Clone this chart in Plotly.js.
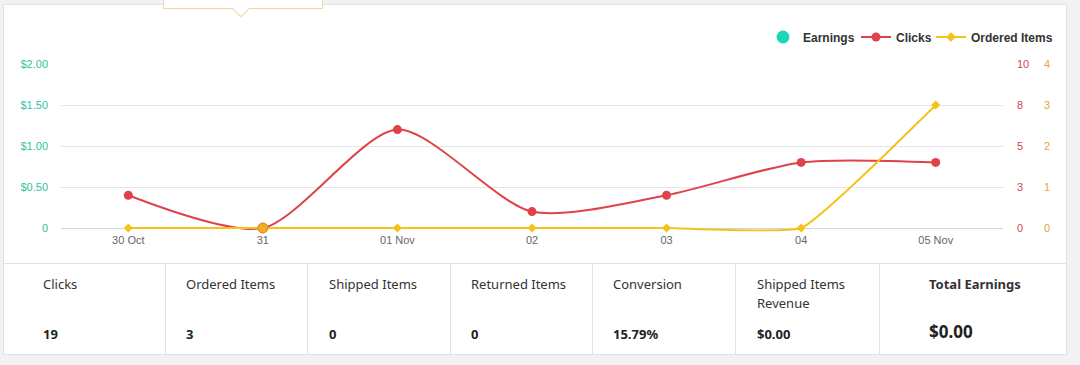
<!DOCTYPE html>
<html>
<head>
<meta charset="utf-8">
<script src="https://cdn.plot.ly/plotly-3.0.1.min.js"></script>
<style>
  html, body { margin:0; padding:0; }
  body { width:1080px; height:365px; background:#f2f2f2; position:relative; overflow:hidden; font-family:"Noto Sans", "Open Sans", sans-serif; }
  #card { position:absolute; left:3px; top:4px; width:1062px; height:349px; background:#fff; border:1px solid #e2e2e2; }
  #chart { position:absolute; left:0; top:0; width:1080px; height:262px; }
  #tip { position:absolute; left:163px; top:-2px; width:158px; height:10px; background:#fff; border:1px solid #f2d6a2; border-top:none; }
  #notch { position:absolute; left:235px; top:3px; width:11px; height:11px; background:#fff; border-right:1px solid #f2d6a2; border-bottom:1px solid #f2d6a2; transform:rotate(45deg); }
  #table { position:absolute; left:3px; top:263px; width:1064px; height:91px; border-top:1px solid #e2e2e2; }
  .col { position:absolute; top:0; height:91px; border-left:1px solid #e2e2e2; box-sizing:border-box; }
  .lab { position:absolute; top:11px; font-size:13px; color:#333; line-height:19px; }
  .val { position:absolute; top:61px; font-size:13px; font-weight:bold; color:#222; }
</style>
</head>
<body>
<div id="card"></div>
<div id="tip"></div>
<div id="notch"></div>
<div id="chart"></div>
<div id="table"></div>
<script>
// ---- data ----
const categories = ['30 Oct', '31', '01 Nov', '02', '03', '04', '05 Nov'];
const earnings = [0, 0, 0, 0, 0, 0, 0];
const clicks = [2, 0, 6, 1, 2, 4, 4];
const orderedItems = [0, 0, 0, 0, 0, 0, 3];

const earningsTickVals = [0, 0.5, 1, 1.5, 2];
const earningsTickText = ['0', '$0.50', '$1.00', '$1.50', '$2.00'];
const clicksTickVals = [0, 2.5, 5, 7.5, 10];
const clicksTickText = ['0', '3', '5', '8', '10'];
const orderedTickVals = [0, 1, 2, 3, 4];
const orderedTickText = ['0', '1', '2', '3', '4'];

const summaryLabels = ['Clicks', 'Ordered Items', 'Shipped Items', 'Returned Items', 'Conversion', 'Shipped Items<br>Revenue', 'Total Earnings'];
const summaryValues = ['19', '3', '0', '0', '15.79%', '$0.00', '$0.00'];

// ---- chart ----
const teal = '#1dd6b9', red = '#de434b', yellow = '#f6c21a';

const traces = [
  {
    name: 'Earnings', legend: 'legend', x: categories, y: earnings, yaxis: 'y', mode: 'markers', type: 'scatter',
    marker: {
      color: categories.map((c, i) => i === 0 ? teal : 'rgba(0,0,0,0)'),
      size: categories.map((c, i) => i === 0 ? 0 : 15),
      opacity: 1,
      line: { width: 0 }
    },
    cliponaxis: false, hoverinfo: 'skip'
  },
  {
    name: 'Clicks', legend: 'legend2', x: categories, y: clicks, yaxis: 'y2', mode: 'lines+markers', type: 'scatter',
    line: { color: red, width: 2, shape: 'spline', smoothing: 0.75 },
    marker: { color: red, size: 9, symbol: 'circle', opacity: 1 },
    cliponaxis: false
  },
  {
    name: 'Ordered Items', legend: 'legend3', x: categories, y: orderedItems, yaxis: 'y3', mode: 'lines+markers', type: 'scatter',
    line: { color: yellow, width: 2, shape: 'spline', smoothing: 0.35 },
    marker: {
      color: categories.map((c, i) => i === 1 ? '#f7a928' : yellow),
      size: categories.map((c, i) => i === 1 ? 10 : 7),
      symbol: categories.map((c, i) => i === 1 ? 'circle' : 'diamond'),
      opacity: 1,
      line: { color: categories.map((c, i) => i === 1 ? '#c98a1a' : yellow), width: categories.map((c, i) => i === 1 ? 1 : 0) }
    },
    cliponaxis: false
  }
];

const tickFont = { family: 'Liberation Sans, Arial, sans-serif', size: 11 };
// plot area extends 5px below the value 0 so the baseline lines are not clipped
const padFrac = 5 / 164;

function legendAt(rightPx) {
  return {
    orientation: 'h', xref: 'container', yref: 'container',
    x: rightPx / 1080, xanchor: 'right', y: 1 - 37 / 262, yanchor: 'middle',
    font: { family: 'Liberation Sans, Arial, sans-serif', size: 12, color: '#333', weight: 'bold' },
    itemwidth: 30, bgcolor: 'rgba(0,0,0,0)'
  };
}

const layout = {
  width: 1080, height: 262,
  margin: { l: 61, r: 77, t: 64, b: 29, pad: 0 },
  paper_bgcolor: 'rgba(0,0,0,0)', plot_bgcolor: 'rgba(0,0,0,0)',
  showlegend: true,
  legend: legendAt(860),
  legend2: legendAt(937),
  legend3: legendAt(1058),
  xaxis: {
    type: 'category', range: [-0.5, 6.5], showgrid: false, zeroline: false,
    showline: false, ticks: '',
    tickfont: Object.assign({ color: '#666' }, tickFont), ticklabelstandoff: -1, fixedrange: true
  },
  yaxis: {
    range: [-2 * padFrac, 2], tickvals: earningsTickVals, ticktext: earningsTickText,
    tickfont: Object.assign({ color: '#2fc2a2' }, tickFont),
    showgrid: true, gridcolor: '#e6e6e6', zeroline: true, zerolinecolor: '#ccd6eb', zerolinewidth: 1,
    showline: false, ticks: '', ticklabelstandoff: 12, fixedrange: true
  },
  yaxis2: {
    overlaying: 'y', side: 'right', range: [-10 * padFrac, 10], tickvals: clicksTickVals, ticktext: clicksTickText,
    tickfont: Object.assign({ color: '#d3464f' }, tickFont),
    showgrid: false, zeroline: false, showline: false, ticks: '', ticklabelstandoff: 13, fixedrange: true
  },
  yaxis3: {
    overlaying: 'y', side: 'right', anchor: 'free', position: 1, range: [-4 * padFrac, 4],
    tickvals: orderedTickVals, ticktext: orderedTickText,
    tickfont: Object.assign({ color: '#e2a640' }, tickFont),
    showgrid: false, zeroline: false, showline: false, ticks: '', ticklabelstandoff: 40, fixedrange: true
  }
};

Plotly.newPlot('chart', traces, layout, { displayModeBar: false, staticPlot: true });

// ---- summary table ----
const colLefts = [3, 165, 307, 450, 592, 735, 879];
const colRights = [165, 307, 450, 592, 735, 879, 1067];
const padLeft = [40, 20, 21, 20, 20, 21, 49];
const table = document.getElementById('table');
summaryLabels.forEach((lab, i) => {
  const col = document.createElement('div');
  col.className = 'col';
  col.style.left = (colLefts[i] - 3) + 'px';
  col.style.width = (colRights[i] - colLefts[i]) + 'px';
  if (i === 0) col.style.borderLeft = 'none';
  const l = document.createElement('div');
  l.className = 'lab';
  l.style.left = padLeft[i] + 'px';
  l.innerHTML = lab;
  const v = document.createElement('div');
  v.className = 'val';
  v.style.left = padLeft[i] + 'px';
  v.textContent = summaryValues[i];
  if (i === 6) {
    l.style.fontWeight = 'bold';
    v.style.fontSize = '17px';
    v.style.top = '56px';
  }
  col.appendChild(l);
  col.appendChild(v);
  table.appendChild(col);
});
</script>
</body>
</html>
